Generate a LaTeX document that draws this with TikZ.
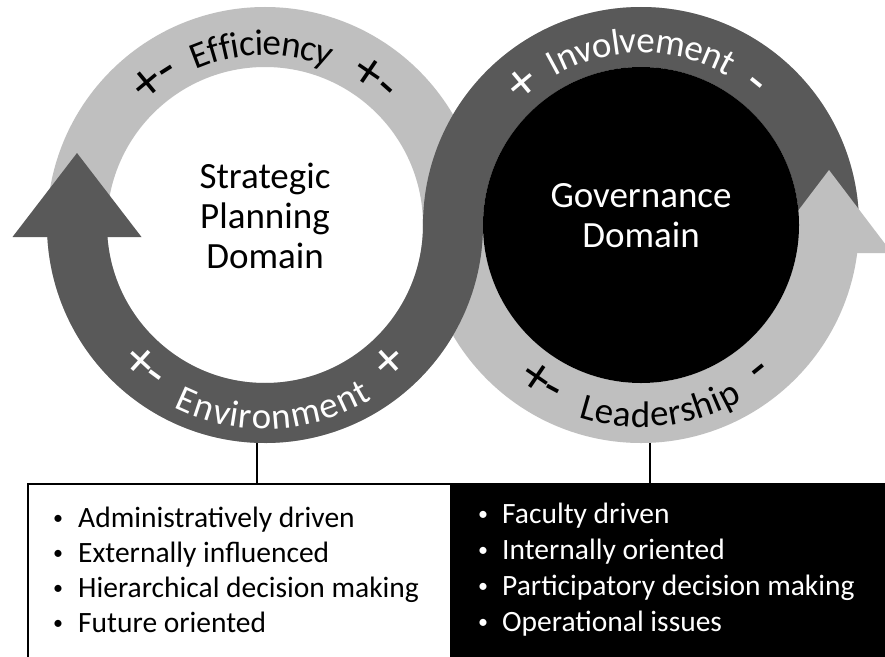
\documentclass[tikz,border=0pt]{standalone}
\usepackage{fontspec}
\setmainfont{Carlito}
\usetikzlibrary{decorations.text}
\definecolor{lightband}{HTML}{BFBFBF}
\definecolor{darkband}{HTML}{595959}
\newcommand{\lblfont}{\fontsize{37}{37}\selectfont}
\newcommand{\symfont}{\fontsize{54}{54}\selectfont}
\newcommand{\blt}[1]{\makebox[#1][l]{\raisebox{3pt}{\fontsize{20}{20}\selectfont •}}}
\newcommand{\toplbl}[6]{% center, angle, path radius, raise, colour, text
  \path[decorate, decoration={text along path, text={#6}, text align=center, text color=#5, raise=#4}]
    (#1) ++(#2+45:#3) arc[start angle=#2+45, end angle=#2-45, radius=#3];}
\newcommand{\botlbl}[6]{% center, angle, path radius, raise, colour, text
  \path[decorate, decoration={text along path, text={#6}, text align=center, text color=#5, raise=#4}]
    (#1) ++(#2-45:#3) arc[start angle=#2-45, end angle=#2+45, radius=#3];}
\tikzset{
  band/.style={line width=60pt},
  boxline/.style={line width=1.5pt},
  domaintext/.style={anchor=base, inner sep=0pt, font=\fontsize{37}{40}\selectfont},
  listtext/.style={anchor=base west, inner sep=0pt, font=\fontsize{29.5}{35}\selectfont},
}
\begin{document}
\begin{tikzpicture}[x=1pt,y=1pt]
\useasboundingbox (0,0) rectangle (885,-656);
\clip (0,0) rectangle (885,-656);
\fill[white] (0,0) rectangle (885,-656);
\coordinate (L) at (265,-225);
\coordinate (R) at (641,-225);
% light bands
\draw[lightband, band] (L) circle[radius=188pt];
\draw[lightband, band] (R) circle[radius=188pt];
% dark bands
\draw[darkband, band] (L) ++(182:188pt) arc[start angle=182, end angle=362, radius=188pt];
\draw[darkband, band] (R) ++(182:188pt) arc[start angle=182, end angle=-5, radius=188pt];
% arrow heads
\fill[darkband] (12.5,-237) -- (141.5,-237) -- (77,-153) -- cycle;
\fill[lightband] (766,-253) -- (892,-253) -- (829,-170) -- cycle;
% governance disk
\node[circle, fill=black, minimum size=316pt, inner sep=0pt] (govdisk) at (R) {};
% domain texts
\node[domaintext] (spd) at (265,-188) {\vtop{\baselineskip=40pt\halign{\hfil#\hfil\cr Strategic\cr Planning\cr Domain\cr}}};
\node[domaintext, text=white] (gov) at (641,-207) {\vtop{\baselineskip=40pt\halign{\hfil#\hfil\cr Governance\cr Domain\cr}}};
% ring labels
\toplbl{L}{127}{168pt}{0pt}{black}{|\symfont|+-}
\toplbl{L}{91}{180pt}{-10pt}{black}{|\lblfont|Efficiency}
\toplbl{L}{53}{168pt}{0pt}{black}{|\symfont|+-}
\toplbl{R}{130}{168pt}{0pt}{white}{|\symfont|+}
\toplbl{R}{90}{180pt}{-8pt}{white}{|\lblfont|Involvement}
\toplbl{R}{51}{168pt}{0pt}{white}{|\symfont|-}
\botlbl{L}{230}{201pt}{0pt}{white}{|\symfont|+-}
\botlbl{L}{272.5}{191pt}{-13pt}{white}{|\lblfont|Environment}
\botlbl{L}{312.5}{201pt}{0pt}{white}{|\symfont|+}
\botlbl{R}{238}{201pt}{0pt}{black}{|\symfont|+-}
\botlbl{R}{276}{195pt}{-7pt}{black}{|\lblfont|Leadership}
\botlbl{R}{309}{201pt}{0pt}{black}{|\symfont|-}
% boxes
\node[draw=black, boxline, fill=white, anchor=north west, minimum width=430pt, minimum height=220pt, inner sep=0pt] (lbox) at (27,-483) {};
\node[fill=black, anchor=north west, minimum width=440pt, minimum height=220pt, inner sep=0pt] (rbox) at (450,-483) {};
\node[listtext] (llist) at (53,-527) {\vtop{\baselineskip=35pt
  \hbox{\blt{25pt}Administratively driven}
  \hbox{\blt{25pt}Externally influenced}
  \hbox{\blt{25pt}Hierarchical decision making}
  \hbox{\blt{25pt}Future oriented}}};
\node[listtext, text=white] (rlist) at (478,-523) {\vtop{\baselineskip=36pt
  \hbox{\blt{24pt}Faculty driven}
  \hbox{\blt{24pt}Internally oriented}
  \hbox{\blt{24pt}Participatory decision making}
  \hbox{\blt{24pt}Operational issues}}};
% connectors
\coordinate (lc) at (257,-443);
\coordinate (rc) at (650,-443);
\draw[boxline] (lc) -- (lc |- lbox.north);
\draw[boxline] (rc) -- (rc |- rbox.north);
\end{tikzpicture}
\end{document}
